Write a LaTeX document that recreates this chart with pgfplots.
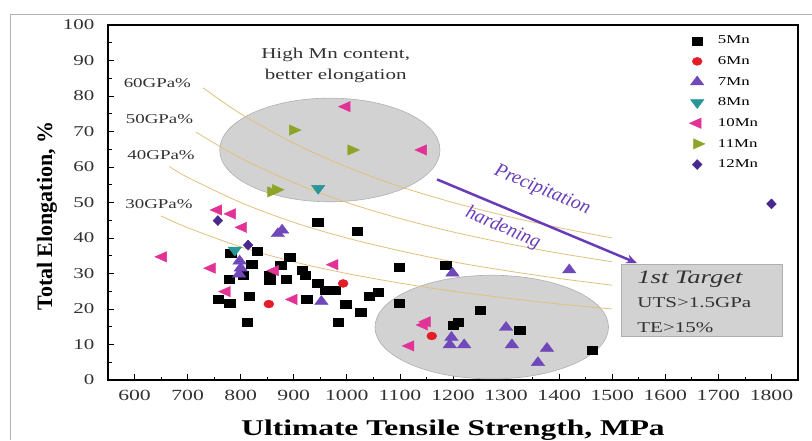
\documentclass[border=0pt]{standalone}
\usepackage{pgfplots}
\pgfplotsset{compat=1.18}
\usepackage{fontspec}
\setmainfont{Liberation Serif}[FakeStretch=1.4]
\newfontfamily\plainserif{Liberation Serif}
\usetikzlibrary{arrows.meta}
\definecolor{cMnSix}{RGB}{228,30,40}
\definecolor{cMnSeven}{RGB}{112,72,186}
\definecolor{cMnEight}{RGB}{40,150,150}
\definecolor{cMnTen}{RGB}{226,50,150}
\definecolor{cMnEleven}{RGB}{140,165,40}
\definecolor{cMnTwelve}{RGB}{72,40,140}
\definecolor{arrowpurple}{RGB}{104,60,184}
\definecolor{curvecol}{RGB}{225,192,125}
\definecolor{ellfill}{RGB}{210,210,210}
\definecolor{elldraw}{RGB}{175,175,175}
\definecolor{ticktext}{RGB}{50,50,50}
\begin{document}
\begin{tikzpicture}[x=1pt,y=1pt]
\useasboundingbox (0,0) rectangle (812,440);
\draw[gray!60, line width=1pt] (10,0) -- (10,425) -- (812,425);
\begin{axis}[
  at={(108pt,60pt)}, anchor=south west, scale only axis,
  width=690pt, height=355pt,
  xmin=550, xmax=1850, ymin=0, ymax=100,
  xtick={600,700,...,1800}, ytick={0,10,...,100},
  minor x tick num=1, minor y tick num=1,
  tick align=inside, xtick pos=bottom, ytick pos=left,
  major tick length=6pt, minor tick length=3.5pt,
  tick style={black, line width=0.8pt},
  axis line style={line width=1.2pt},
  xticklabel style={font=\fontsize{15.5}{15.5}\selectfont, text=ticktext, yshift=-7pt},
  yticklabel style={font=\fontsize{15}{15}\selectfont, text=ticktext, xshift=-10pt},
  /pgf/number format/assume math mode=true,
  /pgf/number format/1000 sep={},
  clip=false,
  legend style={at={(axis cs:1645,97.5)}, anchor=north west, draw=none, fill=none,
    font=\fontsize{12}{12}\selectfont, row sep=7.2pt, column sep=11pt, inner sep=0pt},
  legend cell align=left,
]
% ellipses
\draw[fill=ellfill, draw=elldraw, line width=0.6pt] (axis cs:968,64.8) ellipse [x radius=207.5, y radius=14.6];
\draw[fill=ellfill, draw=elldraw, line width=0.6pt] (axis cs:1273,14.9) ellipse [x radius=220, y radius=14.6];
% target box
\draw[fill=ellfill, draw=elldraw, line width=0.8pt] (axis cs:1518,12.2) rectangle (axis cs:1821,32.7);

% data
\addplot[only marks, mark=square*, mark size=4pt, black, mark options={xscale=1.3}] coordinates {
(758,22.7)(779,21.6)(778,28.5)(781,35.8)(805,29.5)(812,16.4)(816,23.6)(821,32.5)(831,36.4)
(855,29.6)(855,28.0)(875,32.2)(886,28.5)(892,34.7)(916,31.0)(922,29.6)(924,22.7)(945,27.4)
(945,44.4)(960,25.4)(978,25.4)(984,16.4)(998,21.3)(1019,42.0)(1026,19.1)(1042,23.6)(1059,24.6)
(1099,31.7)(1099,21.6)(1186,32.4)(1200,15.5)(1210,16.4)(1251,19.7)(1326,14.1)(1462,8.5)};
\addlegendentry{5Mn}
\addplot[only marks, mark=*, mark size=4pt, cMnSix, mark options={xscale=1.25}] coordinates {
(853,21.4)(993,27.2)(1160,12.4)};
\addlegendentry{6Mn}
\addplot[only marks, mark=triangle*, mark size=6pt, cMnSeven, mark options={xscale=1.3}] coordinates {
(798,33.5)(800,31.5)(797,29.8)(870,41.2)(878,42.2)(952,22.1)(1199,30.1)(1419,31.0)
(1300,14.8)(1197,12.0)(1194,9.9)(1221,9.9)(1311,9.9)(1377,8.9)(1360,4.9)};
\addlegendentry{7Mn}
\addplot[only marks, mark=triangle*, mark size=6pt, cMnEight, mark options={xscale=1.3, rotate=180}] coordinates {
(946,54.0)(789,36.6)};
\addlegendentry{8Mn}
\addplot[only marks, mark=triangle*, mark size=6pt, cMnTen, mark options={xscale=1.3, rotate=90}] coordinates {
(653,34.7)(745,31.5)(757,47.9)(773,24.9)(783,46.8)(804,43.0)(864,30.8)(899,22.7)(976,32.5)
(999,77.0)(1143,64.8)(1145,15.5)(1150,16.4)(1119,9.6)};
\addlegendentry{10Mn}
\addplot[only marks, mark=triangle*, mark size=6pt, cMnEleven, mark options={xscale=1.3, rotate=-90}] coordinates {
(899,70.4)(1009,64.8)(858,53.0)(867,53.6)};
\addlegendentry{11Mn}
\addplot[only marks, mark=diamond*, mark size=5pt, cMnTwelve, mark options={xscale=1.3}] coordinates {
(757,44.9)(814,38.0)(1800,49.6)};
\addlegendentry{12Mn}

% iso-product curves
\addplot[curvecol, line width=0.8pt, smooth, forget plot] coordinates {
(729,82.3)(800,75)(900,66.7)(1000,60)(1100,54.5)(1200,50)(1300,46.2)(1400,42.9)(1500,40)};
\addplot[curvecol, line width=0.8pt, smooth, forget plot] coordinates {
(716,69.8)(800,62.5)(900,55.6)(1000,50)(1100,45.5)(1200,41.7)(1300,38.5)(1400,35.7)(1500,33.3)};
\addplot[curvecol, line width=0.8pt, smooth, forget plot] coordinates {
(666,60.1)(700,57.1)(800,50)(900,44.4)(1000,40)(1100,36.4)(1200,33.3)(1300,30.8)(1400,28.6)(1500,26.7)};
\addplot[curvecol, line width=0.8pt, smooth, forget plot] coordinates {
(650,46.2)(700,42.9)(800,37.5)(900,33.3)(1000,30)(1100,27.3)(1200,25)(1300,23.1)(1400,21.4)(1500,20)};

\node[font=\fontsize{13.5}{13.5}\selectfont, text=ticktext] at (axis cs:643,83.6) {60GPa\%};
\node[font=\fontsize{13.5}{13.5}\selectfont, text=ticktext] at (axis cs:647,73.5) {50GPa\%};
\node[font=\fontsize{13.5}{13.5}\selectfont, text=ticktext] at (axis cs:650,63.4) {40GPa\%};
\node[font=\fontsize{13.5}{13.5}\selectfont, text=ticktext] at (axis cs:646,49.5) {30GPa\%};

\node[font=\fontsize{15}{21}\selectfont, text=ticktext, align=center] at (axis cs:979,88.5) {High Mn content,\\better elongation};

% arrow
\draw[arrowpurple, line width=2.5pt, -{Stealth[length=11pt, width=9pt]}] (axis cs:1170,56.5) -- (axis cs:1547,32.9);
\node[arrowpurple, font=\plainserif\fontsize{19.5}{19.5}\selectfont\itshape, rotate=-23, inner sep=0pt] at (axis cs:1368,53.4) {Precipitation};
\node[arrowpurple, font=\plainserif\fontsize{19.5}{19.5}\selectfont\itshape, rotate=-23, inner sep=0pt] at (axis cs:1294,42.8) {hardening};

% target text
\node[anchor=base west, inner sep=0pt, font=\fontsize{19}{19}\selectfont\itshape, text=ticktext] at (axis cs:1547,27.3) {1st Target};
\node[anchor=base west, inner sep=0pt, font=\fontsize{15}{15}\selectfont, text=ticktext] at (axis cs:1547,20.3) {UTS>1.5GPa};
\node[anchor=base west, inner sep=0pt, font=\fontsize{15}{15}\selectfont, text=ticktext] at (axis cs:1547,13.5) {TE>15\%};
\end{axis}
\node[anchor=base, font=\fontsize{22.5}{22.5}\selectfont\bfseries] at (453,5) {Ultimate Tensile Strength, MPa};
\node[rotate=90, font=\plainserif\fontsize{22}{22}\selectfont\bfseries] at (47,224) {Total Elongation, \%};
\end{tikzpicture}
\end{document}
